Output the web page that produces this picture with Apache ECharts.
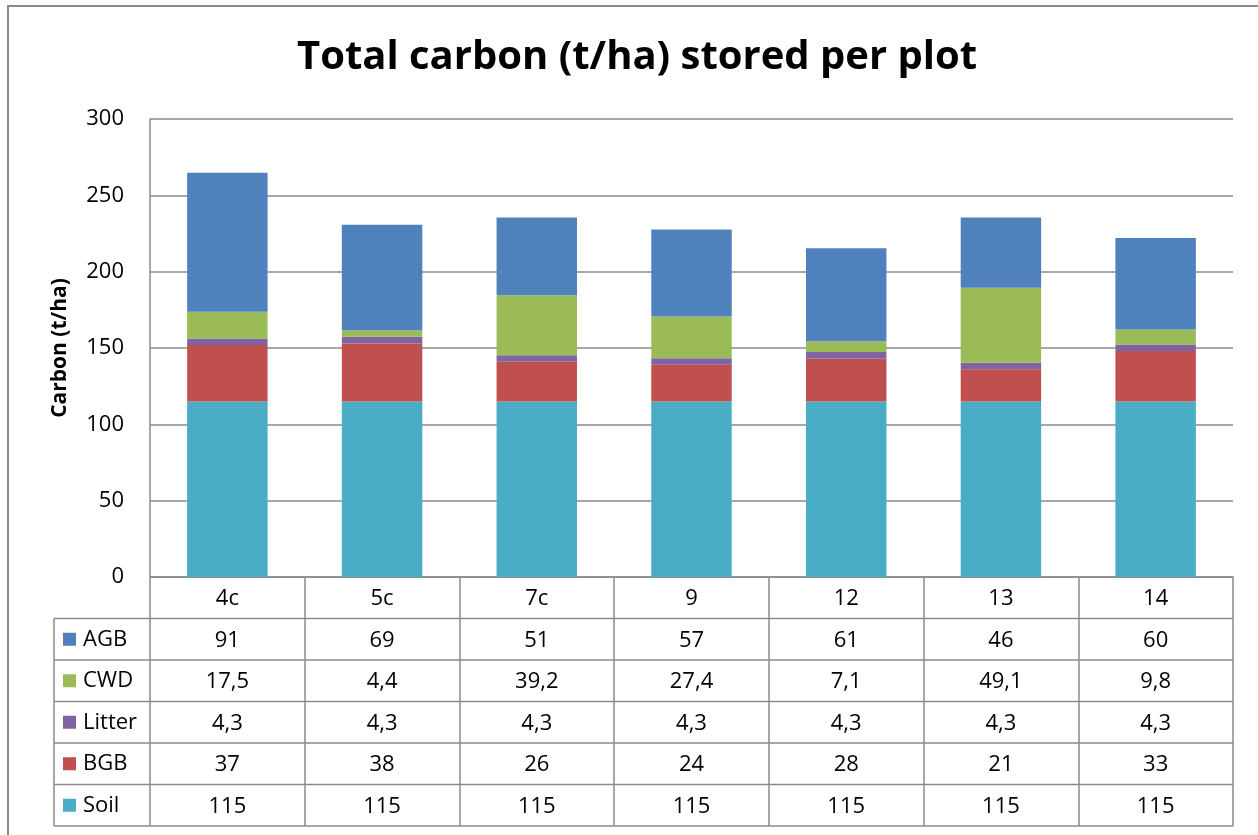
<!DOCTYPE html>
<html>
<head>
<meta charset="utf-8">
<script src="https://cdn.jsdelivr.net/npm/echarts@6/dist/echarts.min.js"></script>
<style>
  html, body { margin: 0; padding: 0; background: #fff; }
  #chart { width: 1258px; height: 835px; }
</style>
</head>
<body>
<div id="chart"></div>
<script>
// Plots and carbon pools (t/ha)
const plots  = ['4c', '5c', '7c', '9', '12', '13', '14'];
const agb    = [91, 69, 51, 57, 61, 46, 60];
const cwd    = [17.5, 4.4, 39.2, 27.4, 7.1, 49.1, 9.8];
const litter = [4.3, 4.3, 4.3, 4.3, 4.3, 4.3, 4.3];
const bgb    = [37, 38, 26, 24, 28, 21, 33];
const soil   = [115, 115, 115, 115, 115, 115, 115];
const yMin = 0, yMax = 300, yStep = 50;

// Layout of the plot area and the data table underneath
const W = 1258, H = 835;
const plotL = 150, plotR = 1233, plotT = 119, plotB = 577;
const rowH = 41.5;
const tableLeft = 54;
const lineCol = '#8a8a8a';
const font = "'Open Sans', 'Noto Sans', sans-serif";
const fs = 22;

const fmt = v => String(v).replace('.', ',');

const chart = echarts.init(document.getElementById('chart'), null, { renderer: 'canvas' });

// Horizontal rules of the table (the axis line is the top one)
const tableLines = [];
for (let k = 1; k <= 6; k++) {
  const y = plotB + k * rowH;
  tableLines.push({
    type: 'line', silent: true,
    shape: { x1: tableLeft, y1: y, x2: plotR, y2: y },
    style: { stroke: lineCol, lineWidth: 1.5 }
  });
}
tableLines.push({
  type: 'line', silent: true,
  shape: { x1: tableLeft, y1: plotB + rowH, x2: tableLeft, y2: plotB + 6 * rowH },
  style: { stroke: lineCol, lineWidth: 1.5 }
});

const mk = (name, data, color) => ({
  name, type: 'bar', stack: 'total', data,
  barCategoryGap: '48%',
  itemStyle: { color },
  emphasis: { disabled: true }
});

chart.setOption({
  animation: false,
  backgroundColor: '#fff',
  textStyle: { fontFamily: font },
  title: {
    text: 'Total carbon (t/ha) stored per plot',
    left: 297,
    top: 38,
    padding: 0,
    textStyle: { fontFamily: font, fontWeight: 'bold', fontSize: 40, color: '#000' }
  },
  grid: { left: plotL, right: W - plotR, top: plotT, bottom: H - plotB, containLabel: false },
  legend: {
    data: ['AGB', 'CWD', 'Litter', 'BGB', 'Soil'],
    orient: 'vertical',
    left: 63,
    top: plotB + rowH,
    padding: 0,
    itemGap: 0,
    itemWidth: 13,
    itemHeight: 13,
    icon: 'rect',
    selectedMode: false,
    textStyle: { fontFamily: font, fontSize: fs, color: '#000', lineHeight: rowH, padding: [0, 0, 0, 2] }
  },
  xAxis: {
    type: 'category',
    data: plots,
    axisLine: { show: true, lineStyle: { color: lineCol, width: 1.5 } },
    axisTick: { show: true, alignWithLabel: false, length: 6 * rowH, lineStyle: { color: lineCol, width: 1.5 } },
    axisLabel: {
      interval: 0,
      margin: 1,
      fontFamily: font,
      fontSize: fs,
      color: '#000',
      lineHeight: rowH,
      formatter: (v, i) => [v, fmt(agb[i]), fmt(cwd[i]), fmt(litter[i]), fmt(bgb[i]), fmt(soil[i])].join('\n')
    }
  },
  yAxis: {
    type: 'value',
    min: yMin, max: yMax, interval: yStep,
    name: 'Carbon (t/ha)',
    nameLocation: 'middle',
    nameGap: 79,
    nameTextStyle: { fontFamily: font, fontWeight: 'bold', fontSize: 21, color: '#000' },
    axisLine: { show: true, lineStyle: { color: lineCol, width: 1.5 } },
    axisTick: { show: false },
    axisLabel: { fontFamily: font, fontSize: fs, color: '#000', margin: 26 },
    splitLine: { lineStyle: { color: lineCol, width: 1.5 } }
  },
  series: [
    mk('Soil', soil, '#4BACC6'),
    mk('BGB', bgb, '#C0504D'),
    mk('Litter', litter, '#8064A2'),
    mk('CWD', cwd, '#9BBB59'),
    mk('AGB', agb, '#4F81BD')
  ],
  graphic: [
    {
      type: 'rect', silent: true,
      shape: { x: 8, y: 6, width: W + 20, height: H + 20 },
      style: { fill: 'none', stroke: '#8a8a8a', lineWidth: 2 }
    },
    ...tableLines
  ]
});
</script>
</body>
</html>
